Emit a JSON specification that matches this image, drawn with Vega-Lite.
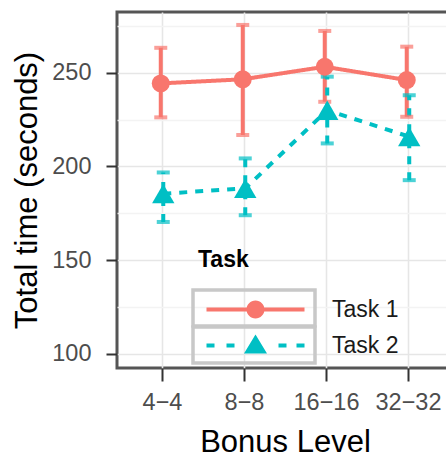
{
  "$schema": "https://vega.github.io/schema/vega-lite/v6.json",
  "width": 336,
  "height": 356,
  "autosize": {"type": "none"},
  "padding": {"left": 117, "top": 12, "right": -7, "bottom": 91},
  "background": "white",
  "config": {
    "font": "Liberation Sans",
    "view": {"stroke": "#555555", "strokeWidth": 3}
  },
  "data": {
    "values": [
      {"level": "4−4", "Task": "Task 1", "time": 244.3, "lo": 226.2, "hi": 263.3},
      {"level": "8−8", "Task": "Task 1", "time": 246.5, "lo": 216.8, "hi": 275.5},
      {"level": "16−16", "Task": "Task 1", "time": 253.2, "lo": 234.5, "hi": 272.3},
      {"level": "32−32", "Task": "Task 1", "time": 246.1, "lo": 226.5, "hi": 263.9},
      {"level": "4−4", "Task": "Task 2", "time": 185.5, "lo": 170.4, "hi": 196.8},
      {"level": "8−8", "Task": "Task 2", "time": 188.3, "lo": 174.0, "hi": 204.3},
      {"level": "16−16", "Task": "Task 2", "time": 230.0, "lo": 212.3, "hi": 247.9},
      {"level": "32−32", "Task": "Task 2", "time": 215.9, "lo": 192.7, "hi": 238.0}
    ]
  },
  "encoding": {
    "x": {
      "field": "level", "type": "nominal",
      "sort": ["4−4", "8−8", "16−16", "32−32"],
      "scale": {"type": "point", "padding": 0.549},
      "axis": {
        "title": "Bonus Level", "titleFontSize": 31, "titleFontWeight": "normal", "titleColor": "#000000", "titlePadding": 14,
        "labelFontSize": 23.5, "labelColor": "#4d4d4d", "labelPadding": 9, "labelAngle": 0,
        "tickSize": 13, "tickColor": "#333333", "tickWidth": 2,
        "domain": false, "grid": true, "gridColor": "#e6e6e6", "gridWidth": 1.6
      }
    },
    "xOffset": {"field": "Task", "type": "nominal", "scale": {"range": [-2.5, 2.5]}},
    "color": {
      "field": "Task", "type": "nominal",
      "scale": {"domain": ["Task 1", "Task 2"], "range": ["#F8766D", "#00BFC4"]}
    }
  },
  "layer": [
    {
      "mark": {"type": "rule", "strokeWidth": 4},
      "encoding": {
        "y": {
          "field": "lo", "type": "quantitative",
          "scale": {"domain": [92.5, 282.4], "nice": false, "zero": false},
          "axis": {
            "title": "Total time (seconds)", "titleFontSize": 31, "titleFontWeight": "normal", "titleColor": "#000000", "titlePadding": 8,
            "values": [100, 125, 150, 175, 200, 225, 250, 275],
            "labelExpr": "datum.value % 50 === 0 ? datum.label : ''",
            "labelFontSize": 23.5, "labelColor": "#4d4d4d", "labelPadding": 15,
            "tickSize": 11, "tickColor": "#333333", "tickWidth": 2,
            "tickOpacity": {"condition": {"test": "datum.value % 50 !== 0", "value": 0}, "value": 1},
            "domain": false, "grid": true, "gridWidth": 1.6,
            "gridColor": {"condition": {"test": "datum.value % 50 !== 0", "value": "#f3f3f3"}, "value": "#e6e6e6"}
          }
        },
        "y2": {"field": "hi"},
        "strokeDash": {"field": "Task", "type": "nominal", "scale": {"domain": ["Task 1", "Task 2"], "range": [[1, 0], [8, 8]]}, "legend": null}
      }
    },
    {
      "mark": {"type": "tick", "size": 13, "thickness": 4},
      "encoding": {"y": {"field": "lo", "type": "quantitative"}}
    },
    {
      "mark": {"type": "tick", "size": 13, "thickness": 4},
      "encoding": {"y": {"field": "hi", "type": "quantitative"}}
    },
    {
      "mark": {"type": "line", "strokeWidth": 4},
      "encoding": {
        "y": {"field": "time", "type": "quantitative"},
        "strokeDash": {"field": "Task", "type": "nominal", "legend": null}
      }
    },
    {
      "transform": [{"filter": "datum.Task === 'Task 1'"}],
      "mark": {"type": "point", "shape": "circle", "filled": true, "size": 324, "opacity": 1},
      "encoding": {"y": {"field": "time", "type": "quantitative"}}
    },
    {
      "transform": [{"filter": "datum.Task === 'Task 2'"}],
      "mark": {"type": "point", "shape": "triangle-up", "filled": true, "size": 500, "opacity": 1},
      "encoding": {"y": {"field": "time", "type": "quantitative"}}
    },
    {
      "mark": {"type": "point", "filled": true, "opacity": 0},
      "encoding": {
        "y": {"field": "time", "type": "quantitative"},
        "strokeWidth": {
          "field": "Task", "type": "nominal",
          "scale": {"domain": ["Task 1", "Task 2"], "range": [3.5, 3.5]},
          "legend": {
            "orient": "bottom-left", "offset": -1.5, "padding": 0, "title": null,
            "labelFontSize": 23, "labelOpacity": 0, "labelOffset": 0,
            "symbolType": "M-6.1,-1.8H6.1V1.8H-6.1Z",
            "symbolSize": 400, "symbolOffset": 126, "symbolOpacity": 1,
            "symbolFillColor": "transparent", "symbolStrokeColor": "#c8c8c8", "rowPadding": -14,
            "encode": {"symbols": {"update": {"opacity": {"value": 1}, "fill": {"value": "transparent"}, "stroke": {"value": "#c8c8c8"}, "strokeWidth": {"value": 3.5}}}}
          }
        },
        "shape": {
          "field": "Task", "type": "nominal",
          "scale": {
            "domain": ["Task 1", "Task 2"],
            "range": [
              "M-4.9,-0.2H4.9V0.2H-4.9Z M0.9,0A0.9,0.9 0 1,1 -0.9,0A0.9,0.9 0 1,1 0.9,0Z",
              "M-4.9,-0.2H-4.1V0.2H-4.9Z M-2.9,-0.2H-2.1V0.2H-2.9Z M2.3,-0.2H3.1V0.2H2.3Z M4.1,-0.2H4.9V0.2H4.1Z M0,-1.1L1.15,0.8H-1.15Z"
            ]
          },
          "legend": {
            "orient": "none", "legendX": 81, "legendY": 237, "padding": 0,
            "title": "Task", "titleFontSize": 23, "titleFontWeight": "bold", "titleColor": "#000000", "titlePadding": 26,
            "labelFontSize": 23, "labelColor": "#1a1a1a", "labelOffset": 65,
            "symbolSize": 400, "symbolOffset": 46, "symbolOpacity": 1, "symbolStrokeWidth": 0, "rowPadding": 12,
            "encode": {"symbols": {"update": {"opacity": {"value": 1}, "fillOpacity": {"value": 1}}}}
          }
        },
        "color": {
          "field": "Task", "type": "nominal",
          "legend": {
            "orient": "none", "legendX": 81, "legendY": 237, "padding": 0,
            "title": "Task", "titleFontSize": 23, "titleFontWeight": "bold", "titleColor": "#000000", "titlePadding": 26,
            "labelFontSize": 23, "labelColor": "#1a1a1a", "labelOffset": 65,
            "symbolSize": 400, "symbolOffset": 46, "symbolOpacity": 1, "symbolStrokeWidth": 0, "rowPadding": 12,
            "encode": {"symbols": {"update": {"opacity": {"value": 1}, "fillOpacity": {"value": 1}}}}
          }
        }
      }
    }
  ]
}
